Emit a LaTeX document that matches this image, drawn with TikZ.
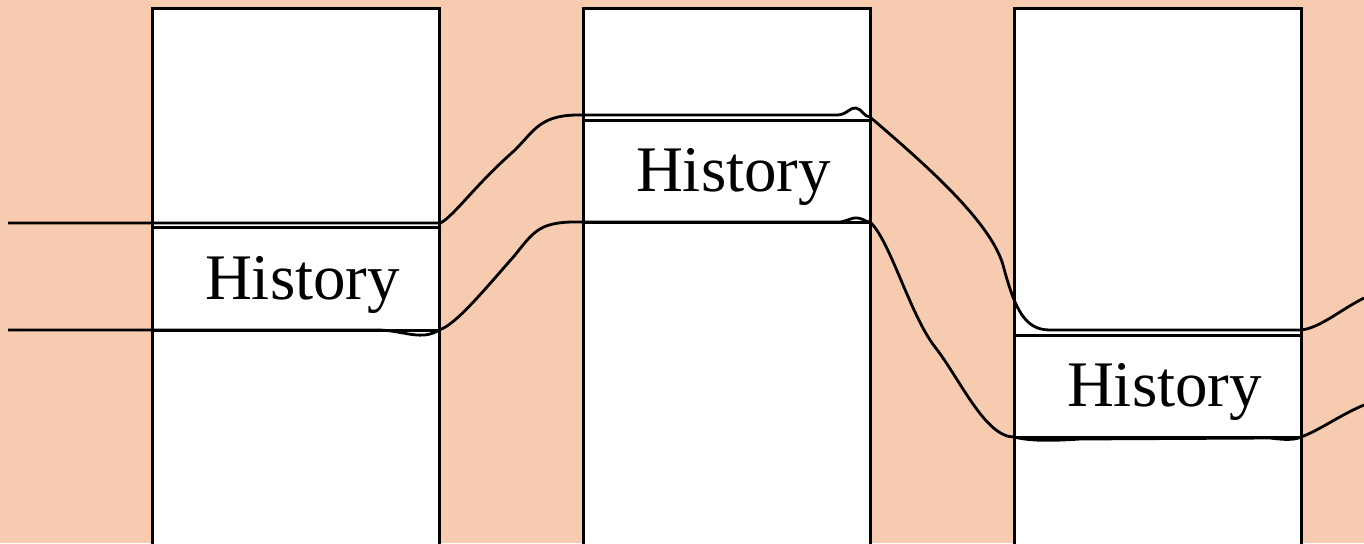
\documentclass[tikz,border=0pt]{standalone}
\usepackage{fontspec}
\setmainfont{Liberation Serif}
\definecolor{peach}{HTML}{F7CBAF}
\begin{document}
\begin{tikzpicture}[x=0.5pt,y=-0.5pt,
  col/.style={draw=black,fill=white,line width=1.5pt},
  hist/.style={draw=black,fill=white,line width=1.5pt,minimum width=287*0.5pt,inner sep=0pt},
  lbl/.style={font=\fontsize{32.5}{32.5}\selectfont,inner sep=0pt},
  wire/.style={draw=black,line width=1.4pt}]
\useasboundingbox (0,0) rectangle (1364,543);
\fill[peach] (0,0) rectangle (1364,543);
\begin{scope}
\clip (0,0) rectangle (1364,543);
\draw[col] (152,8) rectangle (439,600);
\draw[col] (583,8) rectangle (870,600);
\draw[col] (1014,8) rectangle (1301,600);
\end{scope}
\node[hist,minimum height=103*0.5pt] (h1) at (295.5,278.5) {};
\node[hist,minimum height=102*0.5pt] (h2) at (726.5,171) {};
\node[hist,minimum height=102*0.5pt] (h3) at (1157.5,386) {};
\node[lbl] (t1) at ([shift={(7,6)}]h1.center) {History};
\node[lbl] (t2) at ([shift={(7,6)}]h2.center) {History};
\node[lbl] (t3) at ([shift={(7,6)}]h3.center) {History};
\coordinate (ta) at (8,223);
\coordinate (ba) at (8,330);
\coordinate (te) at (1364,298);
\coordinate (be) at (1364,405);
% top wire
\draw[wire] (ta) -- (h1.north east |- ta)
  .. controls (455,215) and (475,185) .. (515,150)
  .. controls (535,130) and (540,114) .. (583,115)
  -- (838,115) .. controls (848,114) and (850,107) .. (856,108)
  .. controls (862,109) and (864,117) .. (870,117)
  .. controls (920,160) and (990,220) .. (1003,265)
  .. controls (1015,310) and (1025,330) .. (1050,330)
  -- (1301,330) .. controls (1320,328) and (1340,310) .. (te);
% bottom wire
\draw[wire] (ba) -- (380,330) .. controls (400,331) and (410,336) .. (425,335)
  .. controls (432,334) and (436,332) .. (439,330)
  .. controls (455,325) and (480,295) .. (515,255)
  .. controls (535,230) and (540,221) .. (583,222)
  -- (840,222) .. controls (848,221) and (852,217) .. (858,218)
  .. controls (864,219) and (866,222) .. (870,222)
  .. controls (890,240) and (910,315) .. (935,347)
  .. controls (960,379) and (985,437) .. (1014,437)
  .. controls (1030,441) and (1050,441) .. (1080,439)
  -- (1270,438) .. controls (1285,440) and (1295,440) .. (1301,437)
  .. controls (1320,430) and (1340,415) .. (be);
\end{tikzpicture}
\end{document}
